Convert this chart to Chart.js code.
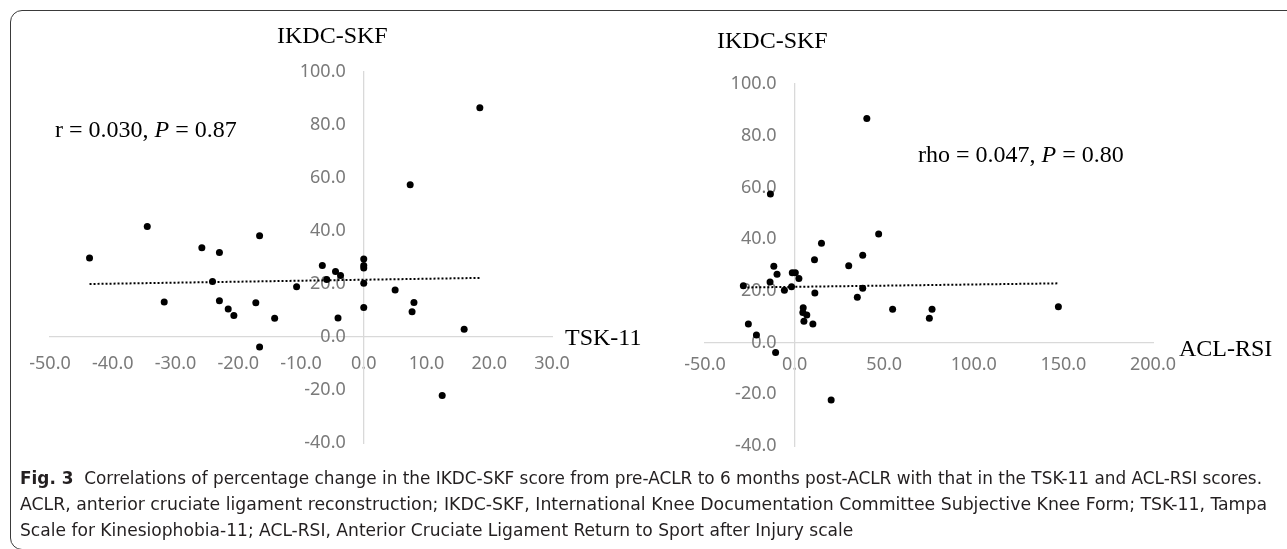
<!DOCTYPE html>
<html><head><meta charset="utf-8">
<script src="https://cdn.jsdelivr.net/npm/chart.js@4.4.0/dist/chart.umd.min.js"></script>
<style>
html,body{margin:0;padding:0;background:#fff;width:1287px;height:549px;overflow:hidden;position:relative;}
#frame{position:absolute;left:10px;top:10px;width:1320px;height:540px;border:1px solid #3a3a3a;border-radius:12px;box-sizing:border-box;}
canvas{position:absolute;top:0;}
.t{position:absolute;font-family:"Liberation Serif","Times New Roman",serif;font-size:24px;line-height:24px;color:#000;white-space:nowrap;}
#cap{position:absolute;left:20px;top:465px;font-family:"DejaVu Sans Condensed","Liberation Sans Narrow",sans-serif;font-size:17px;line-height:26px;color:#231f20;}
#cap div{white-space:nowrap;transform-origin:0 0;width:max-content;}
</style></head>
<body>
<div id="frame"></div>
<canvas id="c1" width="640" height="470" style="left:0px"></canvas>
<canvas id="c2" width="647" height="470" style="left:640px"></canvas>
<div class="t" style="left:277px;top:23px">IKDC-SKF</div>
<div class="t" style="left:717px;top:28px">IKDC-SKF</div>
<div class="t" style="left:565px;top:325px">TSK-11</div>
<div class="t" style="left:1179px;top:336px">ACL-RSI</div>
<div class="t" style="left:55px;top:117px">r = 0.030, <i>P</i> = 0.87</div>
<div class="t" style="left:918px;top:142px">rho = 0.047, <i>P</i> = 0.80</div>
<div id="cap">
<div data-w="1242"><b>Fig. 3</b>&nbsp; Correlations of percentage change in the IKDC-SKF score from pre-ACLR to 6 months post-ACLR with that in the TSK-11 and ACL-RSI scores.</div>
<div data-w="1247">ACLR, anterior cruciate ligament reconstruction; IKDC-SKF, International Knee Documentation Committee Subjective Knee Form; TSK-11, Tampa</div>
<div>Scale for Kinesiophobia-11; ACL-RSI, Anterior Cruciate Ligament Return to Sport after Injury scale</div>
</div>
<script>
// Left panel: % change in TSK-11 (x) vs % change in IKDC-SKF (y)
const tskX = [-43.7,-34.5,-31.8,-25.8,-24.1,-23.0,-23.0,-21.6,-20.7,-17.2,-16.6,-16.6,-14.2,-10.7,-6.6,-5.9,-4.5,-4.1,-3.7,0,0,0,0,0,5.0,7.4,7.7,8.0,12.5,16.0,18.5];
const tskY = [29.8,41.7,13.2,33.7,20.9,31.9,13.7,10.6,8.1,12.9,38.2,-3.8,7.1,19.0,27.0,21.7,24.7,7.2,23.2,29.4,27.0,26.0,20.3,11.1,17.7,57.5,9.5,13.0,-22.1,2.9,86.5];
const tskTrendX = [-43.7, 18.5];
const tskTrendY = [20.0, 22.3];
const tskXTicks = [-50,-40,-30,-20,-10,0,10,20,30];
const tskYTicks = [-40,-20,0,20,40,60,80,100];

// Right panel: % change in ACL-RSI (x) vs % change in IKDC-SKF (y)
const rsiX = [40.3,-13.5,46.9,15.0,11.1,30.2,38.0,-11.6,-9.8,-1.3,0.4,2.4,-13.7,-28.6,-5.7,-1.7,11.3,35.0,38.0,4.8,4.6,6.8,5.2,10.2,-25.8,-21.3,-10.6,20.4,54.7,76.7,75.2,147.2];
const rsiY = [86.7,57.5,42.0,38.4,32.0,29.7,33.8,29.5,26.4,27.0,27.0,24.8,23.4,22.0,20.2,21.6,19.2,17.5,21.0,13.5,11.6,10.7,8.2,7.2,7.2,2.9,-3.8,-22.2,12.9,12.9,9.4,13.9];
const rsiTrendX = [-28.6, 147.2];
const rsiTrendY = [21.3, 22.9];
const rsiXTicks = [-50,0,50,100,150,200];
const rsiYTicks = [-40,-20,0,20,40,60,80,100];

function build(id, xs, ys, tx, ty, xt, yt, pad, xPad) {
  const pts = xs.map((x, i) => ({x: x, y: ys[i]}));
  const tr = tx.map((x, i) => ({x: x, y: ty[i]}));
  const tickFont = {family: '"Noto Sans", sans-serif', size: 18};
  const axisBorder = {display: true, color: '#d9d9d9', width: 1.3};
  new Chart(document.getElementById(id), {
    type: 'scatter',
    data: {datasets: [
      {data: tr, showLine: true, borderColor: '#000', borderWidth: 2, borderDash: [2, 2], pointRadius: 0, fill: false, order: 2},
      {data: pts, pointRadius: 3.5, pointBackgroundColor: '#000', pointBorderWidth: 0, order: 1}
    ]},
    options: {
      responsive: false, animation: false, events: [],
      layout: {padding: pad},
      plugins: {legend: {display: false}, tooltip: {enabled: false}},
      scales: {
        x: {type: 'linear', position: {y: 0}, min: xt[0], max: xt[xt.length - 1],
            grid: {display: false, drawTicks: false}, border: axisBorder,
            ticks: {color: '#7a7a7a', font: tickFont, padding: xPad, autoSkip: false, maxRotation: 0,
                    callback: v => Number(v).toFixed(1)},
            afterBuildTicks: s => { s.ticks = xt.map(v => ({value: v})); },
            afterFit: s => { s.height = 0; }},
        y: {type: 'linear', position: {x: 0}, min: yt[0], max: yt[yt.length - 1],
            grid: {display: false, drawTicks: false}, border: axisBorder,
            ticks: {color: '#7a7a7a', font: tickFont, autoSkip: false,
                    callback: v => Number(v).toFixed(1) + '\u2003'},
            afterBuildTicks: s => { s.ticks = yt.map(v => ({value: v})); },
            afterFit: s => { s.width = 0; }}
      }
    }
  });
}

build('c1', tskX, tskY, tskTrendX, tskTrendY, tskXTicks, tskYTicks, {left: 50, right: 88, top: 72, bottom: 27}, 16);
build('c2', rsiX, rsiY, rsiTrendX, rsiTrendY, rsiXTicks, rsiYTicks, {left: 65, right: 134, top: 84, bottom: 24}, 12);

function fitCaption() {
  const divs = Array.from(document.querySelectorAll('#cap div'));
  divs.forEach(d => { d.style.transform = 'none'; });
  let sum = 0, n = 0;
  const ks = divs.map(d => {
    if (!d.dataset.w) return null;
    const k = Number(d.dataset.w) / d.getBoundingClientRect().width;
    sum += k; n++;
    return k;
  });
  const avg = n ? sum / n : 1;
  divs.forEach((d, i) => { d.style.transform = 'scaleX(' + (ks[i] || avg) + ')'; });
}
fitCaption();
if (document.fonts && document.fonts.ready) document.fonts.ready.then(fitCaption);
</script>
</body></html>
